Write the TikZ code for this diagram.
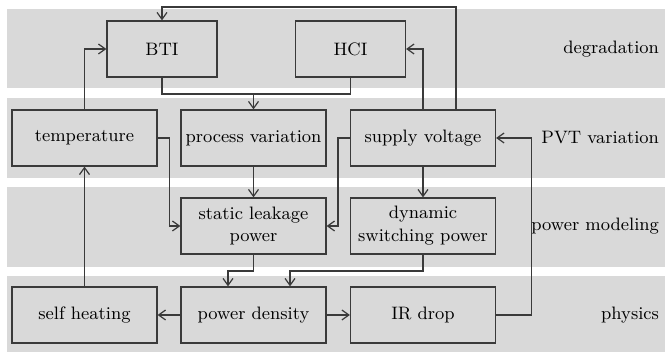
\documentclass[tikz,border=0pt]{standalone}
\usepackage{xcolor}
\usepackage{tikz}
\usetikzlibrary{arrows.meta,positioning,calc}
\definecolor{bandgray}{HTML}{D9D9D9}
\definecolor{linegray}{HTML}{3A3A3A}

\begin{document}
\begin{tikzpicture}[x=0.5pt,y=-0.5pt,>={Straight Barb[length=3.5pt,width=5pt]},
  b/.style={draw=linegray,fill=bandgray,line width=0.6pt,minimum width=72.5pt,minimum height=28pt,
    inner sep=1pt,align=center,font=\fontsize{9}{11.4}\selectfont},
  sb/.style={b,minimum width=55pt},
  lab/.style={anchor=east,font=\fontsize{9}{11.4}\selectfont},
  c/.style={draw=linegray,line width=0.6pt}]
\useasboundingbox (0,0) rectangle (665,352);
% bands
\fill[bandgray] (7,9) rectangle (665,88);
\fill[bandgray] (7,98) rectangle (665,178);
\fill[bandgray] (7,187) rectangle (665,267);
\fill[bandgray] (7,276) rectangle (665,352);
\node[lab] (l1) at (666,49) {degradation};
\node[lab] (l2) at (666,138) {PVT variation};
\node[lab] (l3) at (666,226) {power modeling};
\node[lab] (l4) at (666,315) {physics};
% boxes
\node[sb] (bti) at (162,49) {BTI};
\node[sb] (hci) at (350.5,49) {HCI};
\node[b] (tmp) at (84.5,138) {temperature};
\node[b] (pv) at (253.5,138) {process variation};
\node[b] (sv) at (423,138) {supply voltage};
\node[b] (slp) at (253.5,226) {static leakage\\power};
\node[b] (dsp) at (423,226) {dynamic\\switching power};
\node[b] (sh) at (84.5,315) {self heating};
\node[b] (pd) at (253.5,315) {power density};
\node[b] (ir) at (423,315) {IR drop};
% connectors
\coordinate (t1) at (456,7);
\coordinate (m) at (253.5,94);
\coordinate (j1) at (228,271);
\coordinate (j2) at (290,271);
\draw[c,->] (sv.north -| t1) -- (t1) -| (bti.north);
\draw[c] (bti.south) |- (m) -| (hci.south);
\draw[c,->] (m) -- (pv.north);
\draw[c,->] (tmp.north) |- (bti.west);
\draw[c,->] (sv.north) |- (hci.east);
\draw[c,->] (tmp.east) -- ++(6pt,0) |- (slp.west);
\draw[c,->] (sv.west) -- ++(-6pt,0) |- (slp.east);
\draw[c,->] (pv.south) -- (slp.north);
\draw[c,->] (sv.south) -- (dsp.north);
\draw[c,->] (slp.south) |- (j1) -- (j1 |- pd.north);
\draw[c,->] (dsp.south) |- (j2) -- (j2 |- pd.north);
\draw[c,->] (pd) -- (sh);
\draw[c,->] (pd) -- (ir);
\draw[c,->] (sh) -- (tmp);
\draw[c,->] (ir.east) -- ++(17.5pt,0) |- (sv.east);
\end{tikzpicture}
\end{document}
